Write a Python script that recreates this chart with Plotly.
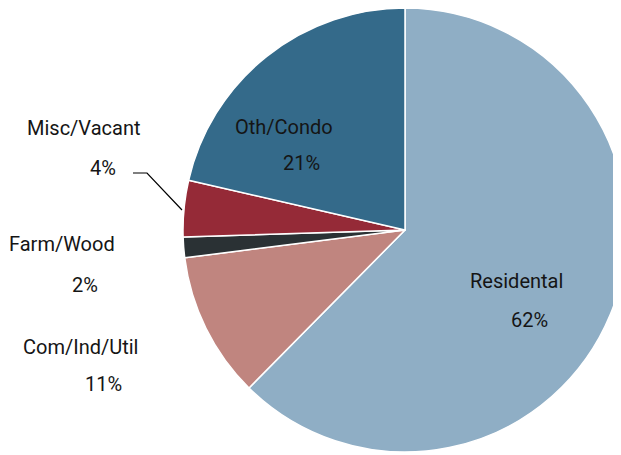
import plotly.graph_objects as go

# share of assessed value by property class
labels = ["Residental", "Com/Ind/Util", "Farm/Wood", "Misc/Vacant", "Oth/Condo"]
values = [62.4, 10.6, 1.5, 4.1, 21.4]
colors = ["#8faec5", "#c0857f", "#2a3134", "#952a37", "#346a8a"]

W, H = 621, 455
OFF = 8  # page body margin shifts the figure in the window
FONT = "Roboto"

# window pixel positions of the two text lines for each slice (name, percent)
label_pos = {
    "Residental": ((516, 281), (529, 320)),
    "Com/Ind/Util": ((80, 347), (103, 384)),
    "Farm/Wood": ((62, 244), (85, 285)),
    "Misc/Vacant": ((83, 128), (103, 168)),
    "Oth/Condo": ((284, 127), (301, 163)),
}


def px(x, y):
    return (x - OFF) / W, 1 - (y - OFF) / H


fig = go.Figure(
    go.Pie(
        labels=labels,
        values=values,
        sort=False,
        direction="clockwise",
        rotation=0,
        marker=dict(colors=colors, line=dict(color="white", width=1.5)),
        textinfo="none",
        hoverinfo="label+percent",
        domain=dict(x=[175 / W, 619 / W], y=[1 - 444 / H, 1]),
    )
)

annotations = []
for lab, v in zip(labels, values):
    (x1, y1), (x2, y2) = label_pos[lab]
    for (x, y), txt in (((x1, y1), lab), ((x2, y2), "{:.0f}%".format(v))):
        ax, ay = px(x, y)
        annotations.append(dict(x=ax, y=ay, xref="paper", yref="paper", text=txt,
                                showarrow=False, xanchor="center", yanchor="middle",
                                font=dict(family=FONT, size=20, color="#151515")))

# leader line for the small Misc/Vacant slice
p = [px(133, 173), px(147, 173), px(182, 210)]
path = "M {} {} L {} {} L {} {}".format(p[0][0], p[0][1], p[1][0], p[1][1], p[2][0], p[2][1])

fig.update_layout(
    width=W, height=H,
    margin=dict(l=0, r=0, t=0, b=0),
    paper_bgcolor="white",
    showlegend=False,
    annotations=annotations,
    shapes=[dict(type="path", path=path, xref="paper", yref="paper",
                 line=dict(color="black", width=1.2))],
)

fig.write_html("out.html")
